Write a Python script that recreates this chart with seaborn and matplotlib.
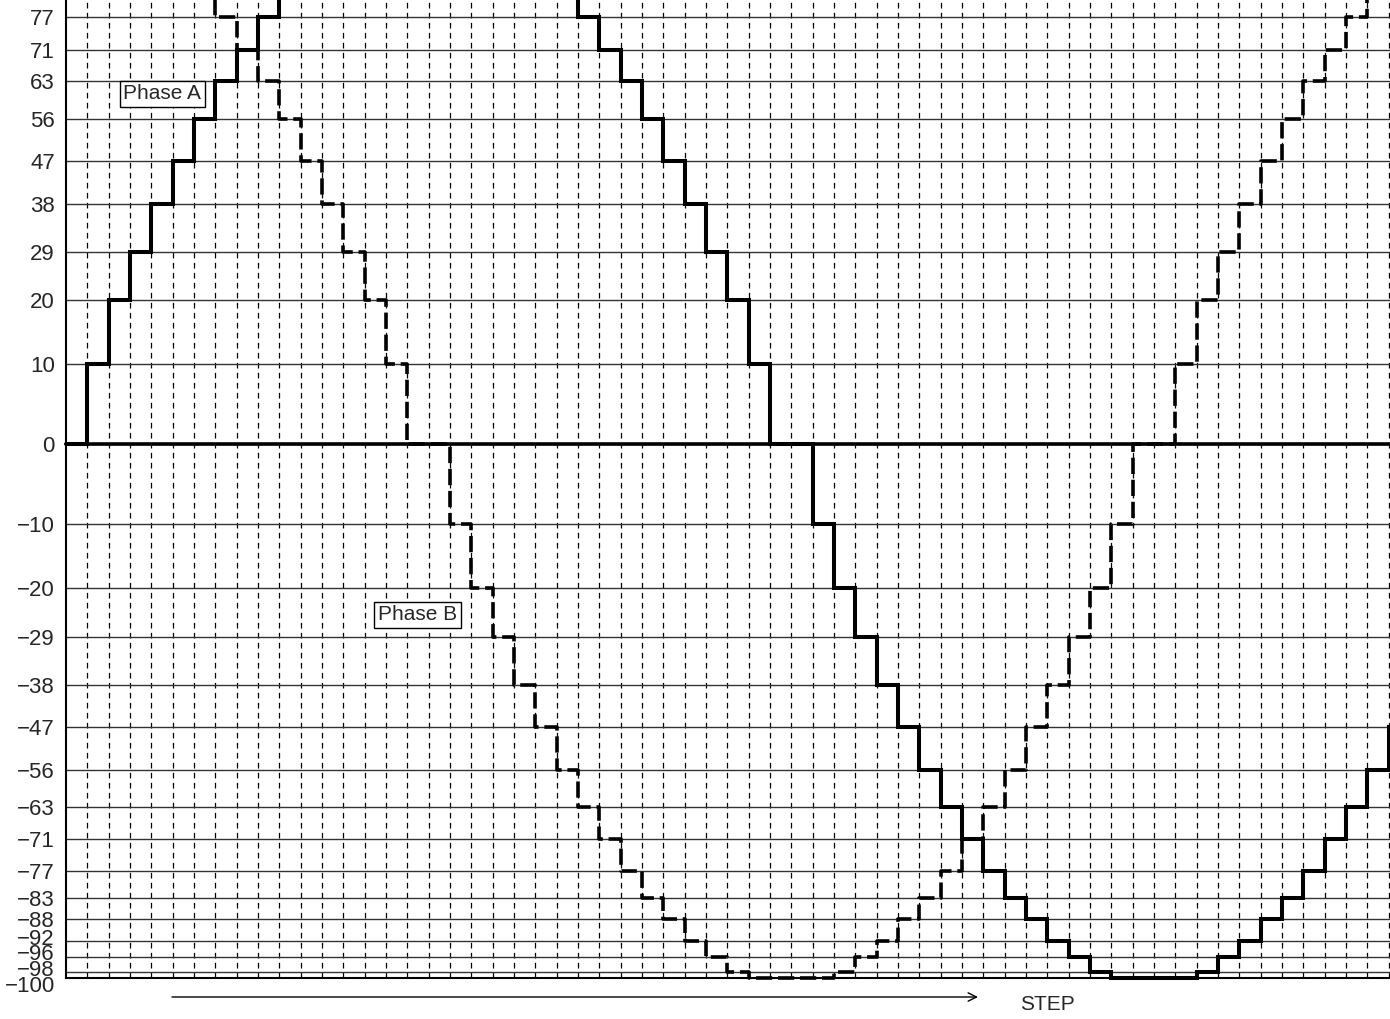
"""
1/16 microstep current table - Phase A / Phase B staircase chart
"""

import numpy as np
import pandas as pd
import matplotlib
matplotlib.use('Agg')
import matplotlib.pyplot as plt
from matplotlib.transforms import ScaledTranslation
import seaborn as sns

sns.set_style('white')
plt.rcParams['font.family'] = ['Liberation Sans', 'DejaVu Sans']

# ------------------------------------------------------------
# data: coil current (% of full scale) at each step
# ------------------------------------------------------------
levels = [-100, -98, -96, -92, -88, -83, -77, -71, -63, -56, -47, -38, -29, -20, -10,
          0, 10, 20, 29, 38, 47, 56, 63, 71, 77]

steps = list(range(63))

phase_a = [0, 10, 20, 29, 38, 47, 56, 63, 71, 77, 83, 88, 92, 96, 98,
           100, 100, 100, 100, 98, 96, 92, 88, 83, 77, 71, 63, 56, 47, 38,
           29, 20, 10, 0, 0, -10, -20, -29, -38, -47, -56, -63, -71, -77, -83,
           -88, -92, -96, -98, -100, -100, -100, -100, -98, -96, -92, -88, -83, -77, -71,
           -63, -56, -47]

phase_b = [100, 100, 98, 96, 92, 88, 83, 77, 71, 63, 56, 47, 38, 29, 20,
           10, 0, 0, -10, -20, -29, -38, -47, -56, -63, -71, -77, -83, -88, -92,
           -96, -98, -100, -100, -100, -100, -98, -96, -92, -88, -83, -77, -71, -63, -56,
           -47, -38, -29, -20, -10, 0, 0, 10, 20, 29, 38, 47, 56, 63, 71,
           77, 83, 88]

# ------------------------------------------------------------
# the original drawing spaces the levels unevenly: build a scale for it
# ------------------------------------------------------------
level_abs = [0, 10, 20, 29, 38, 47, 56, 63, 71, 77, 83, 88, 92, 96, 98, 100]
level_gap = [0, 80, 144, 192.5, 240.5, 283, 325.5, 363, 394.5, 427, 454, 475, 497, 513, 528, 534]

scale_v = np.array([-200] + [-v for v in level_abs[::-1]] + level_abs[1:] + [200], dtype=float)
scale_p = np.array([-1068] + [-g for g in level_gap[::-1]] + level_gap[1:] + [1068], dtype=float)


def fwd(v):
    return np.interp(v, scale_v, scale_p)


def inv(p):
    return np.interp(p, scale_p, scale_v)


# one extra point so the last step is drawn to the right edge
df = pd.DataFrame({
    'step': steps + [steps[-1] + 1],
    'A': phase_a + [phase_a[-1]],
    'B': phase_b + [phase_b[-1]],
})

fig = plt.figure(figsize=(13.9, 10.19), dpi=100)
ax = fig.add_axes([66 / 1390, 1 - 978 / 1019, 1 - 66 / 1390, 978 / 1019])
ax.set_yscale('function', functions=(fwd, inv))

# grid
ax.set_axisbelow(True)
ax.set_xticks(steps[1:])
ax.set_yticks(levels)
ax.set_yticklabels([str(v).replace('-', '\u2212') for v in levels], fontsize=16)
ax.yaxis.grid(True, color='#333333', lw=1.0)
ax.xaxis.grid(True, color='black', lw=0.9, linestyle=(0, (4.5, 3.5)))
ax.tick_params(axis='y', length=0, pad=8)
ax.tick_params(axis='x', length=0, labelbottom=False)

# crowded labels at the bottom are nudged apart (pixels, + = up)
label_shift = {-100: -6, -98: 4, -96: 5, -92: 4}
for val, lab in zip(levels, ax.get_yticklabels()):
    if val in label_shift:
        dy = label_shift[val] / 100
        lab.set_transform(lab.get_transform() + ScaledTranslation(0, dy, fig.dpi_scale_trans))

ax.axhline(0, color='black', lw=2.6, zorder=2)

sns.lineplot(data=df, x='step', y='A', ax=ax, color='black', lw=2.9,
             drawstyle='steps-post', estimator=None, solid_joinstyle='miter',
             zorder=4, clip_on=False)
sns.lineplot(data=df, x='step', y='B', ax=ax, color='black', lw=2.6,
             drawstyle='steps-post', estimator=None, linestyle=(0, (4.5, 1.6)),
             zorder=3, clip_on=False)

ax.set_xlim(0, 62.07)
ax.set_ylim(-100, 80.8)
ax.set_xlabel('')
ax.set_ylabel('')

for side in ['top', 'right']:
    ax.spines[side].set_visible(False)
for side in ['left', 'bottom']:
    ax.spines[side].set_color('black')
    ax.spines[side].set_linewidth(1.5)

box = dict(boxstyle='square,pad=0.18', fc='white', ec='black', lw=1.0)
ax.text(4.52, 60.6, 'Phase A', ha='center', va='center', fontsize=15, bbox=box, zorder=6)
ax.text(16.48, -25.0, 'Phase B', ha='center', va='center', fontsize=15, bbox=box, zorder=6)

# STEP arrow under the plot
fig.add_artist(matplotlib.patches.FancyArrowPatch(
    (172 / 1390, 1 - 997 / 1019), (978 / 1390, 1 - 997 / 1019),
    transform=fig.transFigure, arrowstyle='->,head_length=6,head_width=3',
    color='black', lw=1.0, shrinkA=0, shrinkB=0))
fig.text(1020 / 1390, 1 - 1005 / 1019, 'STEP', fontsize=15, ha='left', va='center')

fig.savefig('out.png', dpi=100)
print("Saved: out.png")
